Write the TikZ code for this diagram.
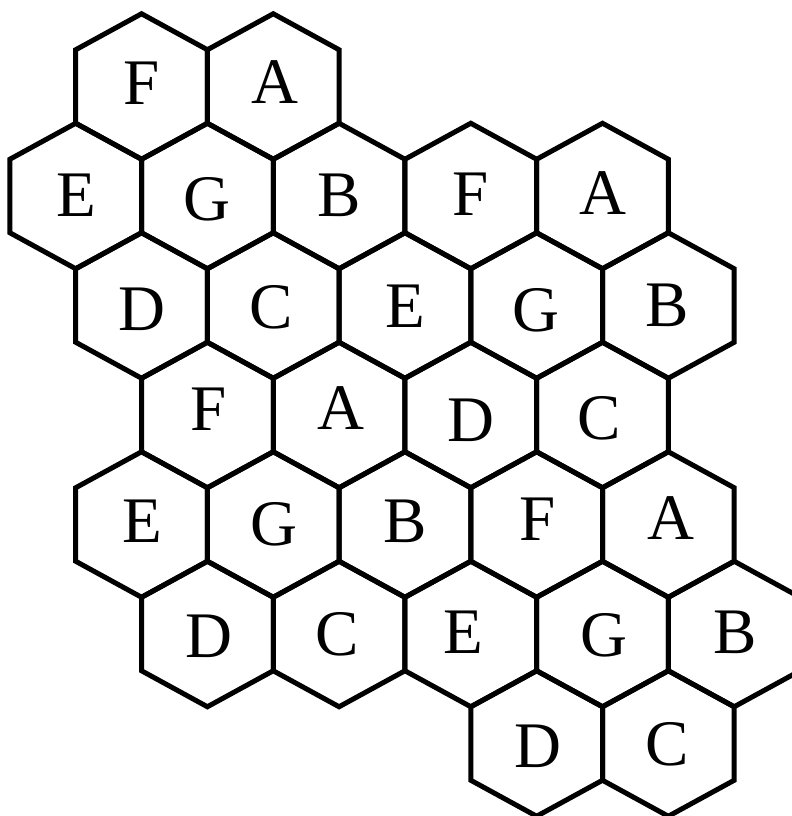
\documentclass[tikz,border=0pt]{standalone}
\usepackage{fontspec}
\setmainfont{Liberation Serif}
\usepackage{tikz}

\begin{document}
\begin{tikzpicture}[
    x=0.5pt, y=-0.5pt,
    hexline/.style={draw=black, line width=2.5pt, line join=miter},
    letter/.style={anchor=base, inner sep=0pt, font=\fontsize{32.5}{36}\selectfont},
    hexcell/.pic={\draw[hexline] (0,-72.75) -- (65.85,-36.75) -- (65.85,36.75) -- (0,72.75) -- (-65.85,36.75) -- (-65.85,-36.75) -- cycle;}
]
\useasboundingbox (0,0) rectangle (792,816);
\clip (0,0) rectangle (792,816);

% Row 1
\pic at (141.55,86.5) {hexcell};
\pic at (273.25,86.5) {hexcell};
\node[letter] (r1f) at (141.5,104) {F};
\node[letter] (r1a) at (274.5,103) {A};

% Row 2
\pic at (75.7,196) {hexcell};
\pic at (207.4,196) {hexcell};
\pic at (339.1,196) {hexcell};
\pic at (470.8,196) {hexcell};
\pic at (602.5,196) {hexcell};
\node[letter] (r2e) at (76,216) {E};
\node[letter] (r2g) at (207,220) {G};
\node[letter] (r2b) at (339.5,216) {B};
\node[letter] (r2f) at (470.5,215) {F};
\node[letter] (r2a) at (602.5,214) {A};

% Row 3
\pic at (141.55,305.5) {hexcell};
\pic at (273.25,305.5) {hexcell};
\pic at (404.95,305.5) {hexcell};
\pic at (536.65,305.5) {hexcell};
\pic at (668.35,305.5) {hexcell};
\node[letter] (r3d) at (142,330) {D};
\node[letter] (r3c) at (271,328.5) {C};
\node[letter] (r3e) at (405,327) {E};
\node[letter] (r3g) at (535.5,331.5) {G};
\node[letter] (r3b) at (667.5,326) {B};

% Row 4
\pic at (207.4,415) {hexcell};
\pic at (339.1,415) {hexcell};
\pic at (470.8,415) {hexcell};
\pic at (602.5,415) {hexcell};
\node[letter] (r4f) at (208.5,430) {F};
\node[letter] (r4a) at (340.5,429) {A};
\node[letter] (r4d) at (470.5,441) {D};
\node[letter] (r4c) at (599,439.5) {C};

% Row 5
\pic at (141.55,524.5) {hexcell};
\pic at (273.25,524.5) {hexcell};
\pic at (404.95,524.5) {hexcell};
\pic at (536.65,524.5) {hexcell};
\pic at (668.35,524.5) {hexcell};
\node[letter] (r5e) at (142.5,542) {E};
\node[letter] (r5g) at (274,545.5) {G};
\node[letter] (r5b) at (405.5,542) {B};
\node[letter] (r5f) at (538,540) {F};
\node[letter] (r5a) at (670.5,539) {A};

% Row 6
\pic at (207.4,634) {hexcell};
\pic at (339.1,634) {hexcell};
\pic at (470.8,634) {hexcell};
\pic at (602.5,634) {hexcell};
\pic at (734.2,634) {hexcell};
\node[letter] (r6d) at (208.5,657) {D};
\node[letter] (r6c) at (337.5,655.5) {C};
\node[letter] (r6e) at (463,653) {E};
\node[letter] (r6g) at (603.5,656.5) {G};
\node[letter] (r6b) at (735.5,653) {B};

% Row 7
\pic at (536.65,743.5) {hexcell};
\pic at (668.35,743.5) {hexcell};
\node[letter] (r7d) at (537.5,767) {D};
\node[letter] (r7c) at (667.5,765.5) {C};

\end{tikzpicture}
\end{document}
